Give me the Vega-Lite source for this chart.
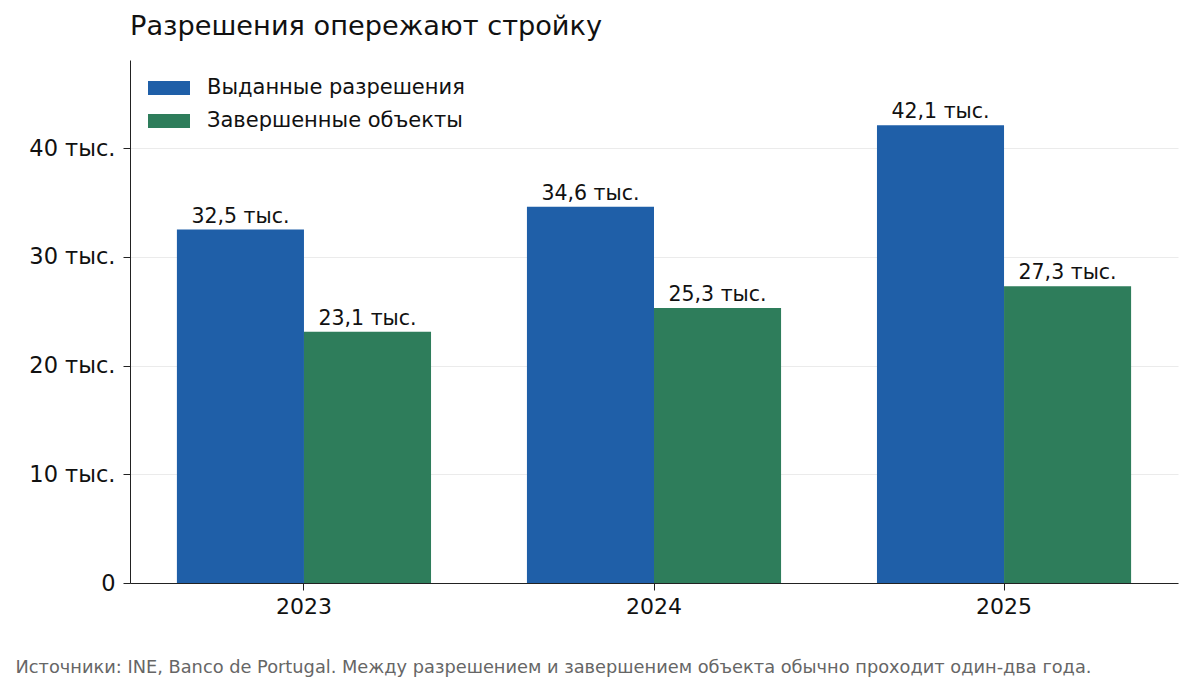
{
  "$schema": "https://vega.github.io/schema/vega-lite/v6.json",
  "autosize": {"type": "none"},
  "width": 1048,
  "height": 523,
  "padding": {"left": 130, "top": 60, "right": 15, "bottom": 109},
  "background": "white",
  "title": {
    "text": "Разрешения опережают стройку",
    "anchor": "start",
    "frame": "group",
    "font": "DejaVu Sans",
    "fontSize": 27.2,
    "fontWeight": "normal",
    "color": "#111",
    "baseline": "alphabetic",
    "offset": 4,
    "dy": 6
  },
  "data": {
    "values": [
      {"year": "2023", "series": "Выданные разрешения", "value": 32.5},
      {"year": "2023", "series": "Завершенные объекты", "value": 23.1},
      {"year": "2024", "series": "Выданные разрешения", "value": 34.6},
      {"year": "2024", "series": "Завершенные объекты", "value": 25.3},
      {"year": "2025", "series": "Выданные разрешения", "value": 42.1},
      {"year": "2025", "series": "Завершенные объекты", "value": 27.3}
    ]
  },
  "transform": [
    {"calculate": "replace(format(datum.value, '.1f'), '.', ',') + ' тыс.'", "as": "label"}
  ],
  "encoding": {
    "x": {
      "field": "year",
      "type": "nominal",
      "scale": {"paddingInner": 0.274, "paddingOuter": 0.134},
      "axis": {
        "title": "Источники: INE, Banco de Portugal. Между разрешением и завершением объекта обычно проходит один-два года.",
        "titleAnchor": "start",
        "titleAlign": "left",
        "titleBaseline": "alphabetic",
        "titleX": -115,
        "titleY": 89,
        "titleFont": "DejaVu Sans",
        "titleFontSize": 17.8,
        "titleFontWeight": "normal",
        "titleColor": "#666",
        "titleLimit": 0,
        "labelAngle": 0,
        "labelFont": "DejaVu Sans",
        "labelFontSize": 22,
        "labelColor": "#111",
        "labelPadding": 6,
        "tickSize": 7,
        "tickColor": "#222",
        "domainColor": "#222",
        "grid": false
      }
    },
    "xOffset": {
      "field": "series",
      "type": "nominal",
      "scale": {"domain": ["Выданные разрешения", "Завершенные объекты"], "paddingInner": 0, "paddingOuter": 0}
    },
    "y": {
      "field": "value",
      "type": "quantitative",
      "scale": {"domain": [0, 48.1], "nice": false},
      "axis": {
        "title": null,
        "values": [0, 10, 20, 30, 40],
        "labelExpr": "datum.value == 0 ? '0' : datum.value + ' тыс.'",
        "labelFont": "DejaVu Sans",
        "labelFontSize": 22.5,
        "labelColor": "#111",
        "labelPadding": 8,
        "tickSize": 7,
        "tickColor": "#222",
        "domainColor": "#222",
        "grid": true,
        "gridColor": "#ebebeb",
        "gridWidth": 1.2
      }
    }
  },
  "layer": [
    {
      "mark": {"type": "bar"},
      "encoding": {
        "color": {
          "field": "series",
          "type": "nominal",
          "scale": {"domain": ["Выданные разрешения", "Завершенные объекты"], "range": ["#1f5fa8", "#2e7d5b"]},
          "legend": {
            "title": null,
            "orient": "none",
            "legendX": 28.5,
            "legendY": 17.5,
            "padding": 0,
            "symbolType": "M-2,-0.66H2V0.66H-2Z",
            "symbolSize": 441,
            "symbolStrokeWidth": 0,
            "labelFont": "DejaVu Sans",
            "labelFontSize": 21,
            "labelColor": "#111",
            "labelLimit": 0,
            "labelOffset": 27.5,
            "rowPadding": 11
          }
        }
      }
    },
    {
      "mark": {"type": "text", "baseline": "bottom", "dy": -3, "font": "DejaVu Sans", "fontSize": 20.5, "color": "#111"},
      "encoding": {
        "text": {"field": "label", "type": "nominal"}
      }
    }
  ],
  "config": {
    "view": {"stroke": null}
  }
}
